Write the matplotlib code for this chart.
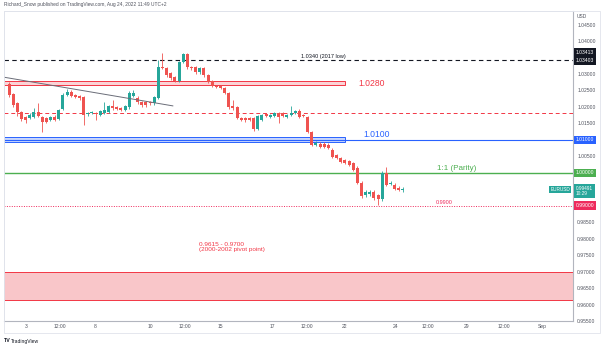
import matplotlib
matplotlib.use('Agg')
import matplotlib.pyplot as plt
import matplotlib.transforms as mtransforms
from matplotlib.patches import Rectangle
import numpy as np

plt.rcParams['font.family'] = ['Liberation Sans', 'DejaVu Sans']

# EURUSD 4H candles, oldest first
opens = [1.0269, 1.0239, 1.0211, 1.0184, 1.0169, 1.0166, 1.0169, 1.0184, 1.0169, 1.0166,
         1.0160, 1.0169, 1.0163, 1.0193, 1.0236, 1.0245, 1.0236, 1.0233, 1.0230, 1.0178,
         1.0181, 1.0181, 1.0175, 1.0181, 1.0184, 1.0202, 1.0199, 1.0196, 1.0190, 1.0199,
         1.0233, 1.0227, 1.0214, 1.0214, 1.0214, 1.0211, 1.0227, 1.0320, 1.0317, 1.0302,
         1.0290, 1.0278, 1.0335, 1.0359, 1.0320, 1.0320, 1.0305, 1.0317, 1.0296, 1.0278,
         1.0263, 1.0263, 1.0257, 1.0242, 1.0202, 1.0199, 1.0166, 1.0165, 1.0166, 1.0166,
         1.0133, 1.0160, 1.0178, 1.0169, 1.0172, 1.0181, 1.0181, 1.0169, 1.0175, 1.0181,
         1.0187, 1.0175, 1.0169, 1.0124, 1.0085, 1.0088, 1.0088, 1.0085, 1.0070, 1.0054,
         1.0045, 1.0039, 1.0036, 1.0030, 1.0015, 0.9970, 0.9931, 0.9934, 0.9943, 0.9931,
         0.9919, 1.0000, 0.9967, 0.9964, 0.9955, 0.9949]
closes = [1.0236, 1.0205, 1.0184, 1.0163, 1.0160, 1.0175, 1.0184, 1.0172, 1.0154, 1.0154,
          1.0169, 1.0160, 1.0190, 1.0236, 1.0245, 1.0233, 1.0230, 1.0227, 1.0175, 1.0181,
          1.0184, 1.0178, 1.0187, 1.0190, 1.0202, 1.0196, 1.0193, 1.0190, 1.0202, 1.0242,
          1.0242, 1.0214, 1.0205, 1.0205, 1.0211, 1.0230, 1.0320, 1.0317, 1.0296, 1.0287,
          1.0278, 1.0335, 1.0359, 1.0320, 1.0317, 1.0305, 1.0317, 1.0296, 1.0275, 1.0263,
          1.0260, 1.0257, 1.0242, 1.0199, 1.0196, 1.0166, 1.0160, 1.0159, 1.0161, 1.0133,
          1.0172, 1.0175, 1.0172, 1.0175, 1.0181, 1.0169, 1.0172, 1.0175, 1.0181, 1.0187,
          1.0169, 1.0172, 1.0124, 1.0085, 1.0091, 1.0079, 1.0079, 1.0076, 1.0048, 1.0045,
          1.0033, 1.0030, 1.0024, 1.0009, 0.9970, 0.9928, 0.9943, 0.9943, 0.9922, 0.9919,
          1.0000, 0.9964, 0.9970, 0.9952, 0.9949, 0.9951]
highs = [1.0275, 1.0242, 1.0214, 1.0187, 1.0172, 1.0180, 1.0196, 1.0211, 1.0172, 1.0170,
         1.0173, 1.0175, 1.0195, 1.0242, 1.0254, 1.0250, 1.0240, 1.0237, 1.0233, 1.0185,
         1.0188, 1.0185, 1.0191, 1.0214, 1.0206, 1.0220, 1.0203, 1.0200, 1.0206, 1.0248,
         1.0250, 1.0232, 1.0218, 1.0218, 1.0218, 1.0234, 1.0341, 1.0365, 1.0321, 1.0306,
         1.0294, 1.0339, 1.0362, 1.0363, 1.0324, 1.0324, 1.0321, 1.0321, 1.0300, 1.0282,
         1.0267, 1.0267, 1.0261, 1.0246, 1.0220, 1.0203, 1.0170, 1.0169, 1.0170, 1.0170,
         1.0176, 1.0179, 1.0182, 1.0179, 1.0185, 1.0185, 1.0185, 1.0179, 1.0202, 1.0191,
         1.0193, 1.0179, 1.0173, 1.0128, 1.0095, 1.0092, 1.0092, 1.0089, 1.0074, 1.0058,
         1.0049, 1.0043, 1.0040, 1.0034, 1.0019, 0.9974, 0.9947, 0.9947, 0.9947, 0.9935,
         1.0004, 1.0018, 0.9974, 0.9968, 0.9959, 0.9958]
lows = [1.0230, 1.0200, 1.0172, 1.0158, 1.0151, 1.0162, 1.0165, 1.0168, 1.0124, 1.0150,
        1.0157, 1.0156, 1.0160, 1.0190, 1.0232, 1.0230, 1.0226, 1.0222, 1.0145, 1.0172,
        1.0177, 1.0160, 1.0171, 1.0177, 1.0180, 1.0192, 1.0189, 1.0186, 1.0186, 1.0195,
        1.0229, 1.0210, 1.0200, 1.0201, 1.0207, 1.0207, 1.0224, 1.0314, 1.0292, 1.0283,
        1.0274, 1.0274, 1.0332, 1.0316, 1.0313, 1.0301, 1.0301, 1.0292, 1.0271, 1.0259,
        1.0256, 1.0253, 1.0238, 1.0195, 1.0192, 1.0162, 1.0156, 1.0155, 1.0157, 1.0128,
        1.0129, 1.0156, 1.0168, 1.0165, 1.0168, 1.0151, 1.0168, 1.0165, 1.0171, 1.0177,
        1.0165, 1.0168, 1.0120, 1.0081, 1.0081, 1.0075, 1.0075, 1.0072, 1.0044, 1.0041,
        1.0029, 1.0026, 1.0020, 1.0005, 0.9966, 0.9924, 0.9927, 0.9930, 0.9918, 0.9903,
        0.9914, 0.9960, 0.9963, 0.9948, 0.9945, 0.9942]

# time axis (candle index) labels
tick_pos = [4.1, 12.3, 20.7, 34.0, 42.4, 50.9, 63.4, 71.9, 81.0, 93.1, 101.0, 110.4, 119.4, 128.5]
tick_labels = ['3', '12:00', '8', '10', '12:00', '15', '17', '12:00', '22', '24', '12:00', '29', '12:00', 'Sep']
price_ticks = [0.955, 0.960, 0.965, 0.970, 0.975, 0.980, 0.985, 1.005, 1.015,
               1.020, 1.025, 1.030, 1.040, 1.045]

# drawn levels
low_2017 = 1.0341
zone_1028 = (1.0266, 1.0280)
red_dash = 1.0181
zone_1010 = (1.0093, 1.0110)
level_1010 = 1.0100
parity = 1.0000
level_099 = 0.9900
pivot_zone = (0.9615, 0.9700)
trend_x = [-1.2, 39.5]
trend_y = [1.0290, 1.0203]
zone_end = 81.0

GREEN = '#26a69a'
RED = '#ef5350'
W, H = 602, 346

fig = plt.figure(figsize=(W / 100, H / 100), dpi=100)
ax = fig.add_axes([4 / W, 1 - 321 / H, 569 / W, 310 / H])
ax.set_xlim(-1.21, 136.0)
ax.set_ylim(0.9550, 1.0491)

# candles
o = np.array(opens); c = np.array(closes)
x = np.arange(len(o))
cols = [GREEN if cc >= oo else RED for oo, cc in zip(o, c)]
ax.vlines(x, lows, highs, colors=cols, lw=0.6, zorder=3)
body = np.maximum(np.abs(c - o), 0.00012)
ax.bar(x, body, bottom=np.minimum(o, c), width=0.72, color=cols, zorder=4, linewidth=0)

# zones
x0 = ax.get_xlim()[0]
ax.add_patch(Rectangle((x0, zone_1028[0]), zone_end - x0, zone_1028[1] - zone_1028[0],
                       fc='#fbd3d6', ec='#f23645', lw=0.7, zorder=2))
ax.add_patch(Rectangle((x0, zone_1010[0]), zone_end - x0, zone_1010[1] - zone_1010[0],
                       fc='#c8d6fd', ec='#2962ff', lw=0.7, zorder=2))
ax.add_patch(Rectangle((x0, pivot_zone[0]), ax.get_xlim()[1] - x0, pivot_zone[1] - pivot_zone[0],
                       fc='#f9c6c9', ec='#f23645', lw=0.7, zorder=2))

# levels
ax.axhline(low_2017, color='#131722', lw=0.8, dashes=(4, 3), zorder=2)
ax.axhline(red_dash, color='#f23645', lw=0.7, dashes=(4, 3), zorder=2)
ax.axhline(level_1010, color='#2962ff', lw=0.8, zorder=2)
ax.axhline(parity, color='#4caf50', lw=1.0, zorder=2)
ax.axhline(level_099, color='#ee2a5c', lw=0.7, ls=(0, (1, 1.5)), zorder=2)
ax.plot(trend_x, trend_y, color='#6a6d78', lw=0.7, zorder=5)

# labels on chart
ax.text(70.4, 1.0352, '1.0340 (2017 low)', fontsize=4, color='#131722', va='center')
ax.text(84.2, 1.0270, '1.0280', fontsize=6.2, color='#f23645', va='center')
ax.text(85.4, 1.0115, '1.0100', fontsize=6.2, color='#2962ff', va='center')
ax.text(103.2, 1.0012, '1:1 (Parity)', fontsize=5.8, color='#4caf50', va='center')
ax.text(103.0, 0.9909, '0.9900', fontsize=4, color='#ee2a5c', va='center')
ax.text(45.8, 0.9774, '0.9615 - 0.9700\n(2000-2002 pivot point)', fontsize=4.6,
        color='#f23645', va='center', linespacing=1.0)

# axes styling
ax.set_xticks(tick_pos)
ax.set_xticklabels(tick_labels)
ax.yaxis.tick_right()
ax.set_yticks(price_ticks)
ax.set_yticklabels(['%.5f' % p for p in price_ticks])
ax.tick_params(axis='both', length=0, labelsize=3.6, colors='#50535e')
ax.tick_params(axis='y', pad=3)
ax.tick_params(axis='x', pad=2.5)
for s in ['right', 'bottom']:
    ax.spines[s].set_color('#b2b5be')
    ax.spines[s].set_linewidth(0.8)
for s in ['left', 'top']:
    ax.spines[s].set_color('#e0e3eb')
    ax.spines[s].set_linewidth(0.6)

# price tags on right scale
trans = mtransforms.blended_transform_factory(ax.transAxes, ax.transData)
tags = [('1.03413', 1.0365, '#131722'), ('1.03403', 1.0341, '#131722'),
        ('1.01000', 1.0100, '#2962ff'), ('1.00000', 1.0000, '#4caf50'),
        ('0.99000', 0.9900, '#ee2a5c')]
for txt, p, col in tags:
    ax.text(1 + 3 / 569, p, txt, transform=trans, fontsize=3.6, color='white', va='center',
            ha='left', bbox=dict(boxstyle='square,pad=0.35', fc=col, ec='none'))
ax.text(1 + 3 / 569, 0.99450, '0.99491\n10:29', transform=trans, fontsize=3.4, color='white',
        va='center', ha='left', linespacing=1.1,
        bbox=dict(boxstyle='square,pad=0.35', fc=GREEN, ec='none'))
ax.text(1 - 3 / 569, 0.99491, 'EURUSD', transform=trans, fontsize=3.4, color='white',
        va='center', ha='right', bbox=dict(boxstyle='square,pad=0.3', fc=GREEN, ec='none'))
ax.text(1 + 4 / 569, 1 - 5 / 310, 'USD', transform=ax.transAxes, fontsize=3.5,
        color='#50535e', va='center')

# panel frame, header and footer
fig.patches.append(Rectangle((4 / W, 1 - 333 / H), 596 / W, 322 / H, transform=fig.transFigure,
                             fill=False, ec='#e0e3eb', lw=0.6))
fig.text(4 / W, 1 - 4.5 / H, 'Richard_Snow published on TradingView.com, Aug 24, 2022 11:49 UTC+2',
         fontsize=3.5, color='#50535e', va='center')
fig.text(4 / W, 1 - 341 / H, 'TV', fontsize=3.8, fontweight='bold', color='#131722', va='center')
fig.text(11 / W, 1 - 341 / H, 'TradingView', fontsize=3.6, color='#131722', va='center')

fig.savefig('out.png', dpi=100)
